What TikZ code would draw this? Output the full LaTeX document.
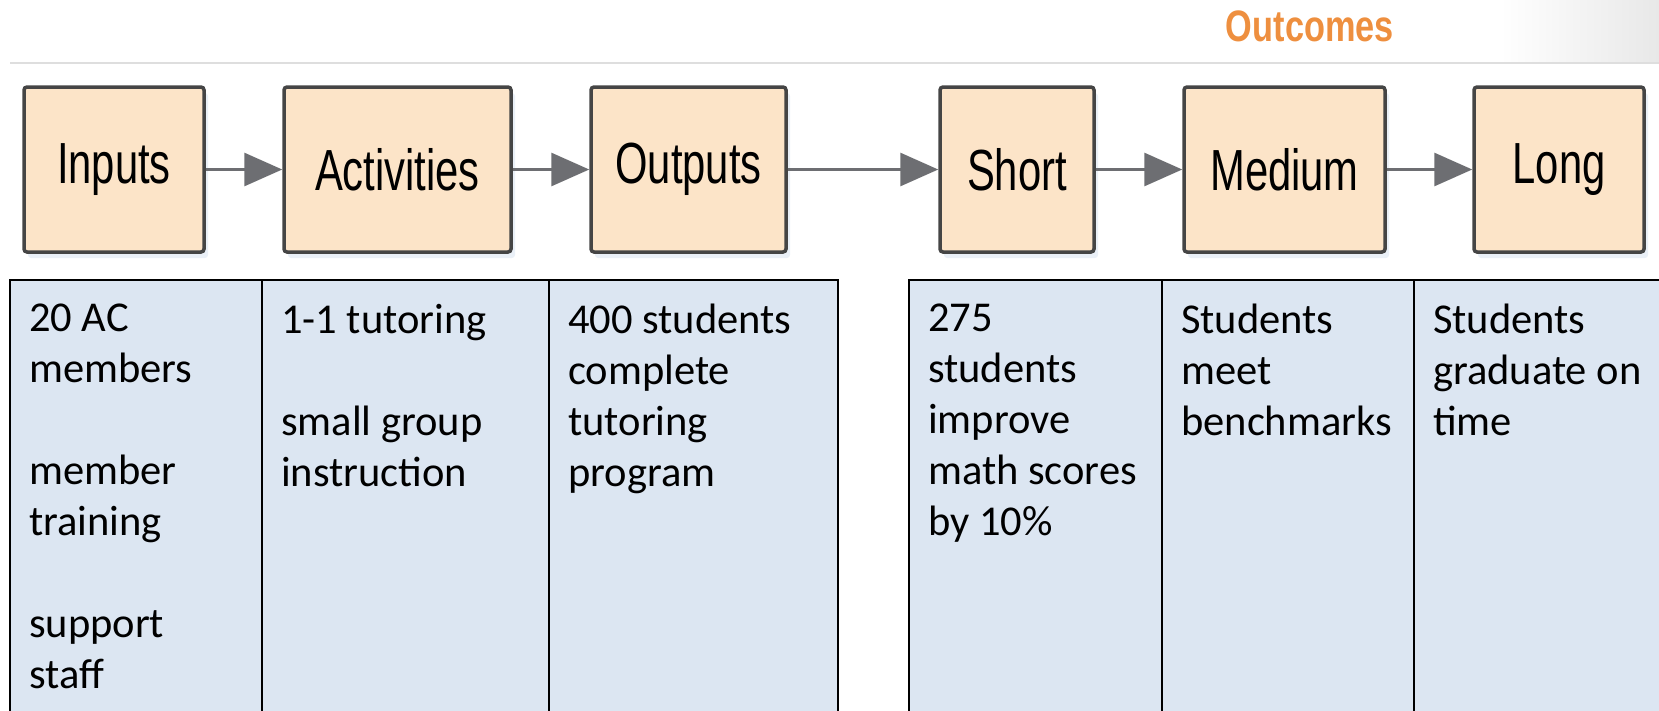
\documentclass[tikz,border=0pt]{standalone}
\usepackage{fontspec}
\usepackage{xcolor}
\usepackage{graphicx}
\usepackage{tikz}
\usetikzlibrary{arrows.meta}
\usetikzlibrary{shadows}
\usetikzlibrary{positioning}

\newfontfamily\stagefont{Liberation Sans}
\newfontfamily\listfont{Carlito}
\definecolor{peach}{HTML}{FCE4C8}
\definecolor{paleblue}{HTML}{DCE6F2}
\definecolor{tangerine}{HTML}{EE8F3F}
\definecolor{arrowgray}{HTML}{6D6E72}
\definecolor{edgegray}{HTML}{454545}
\newcommand{\squeeze}[1]{\scalebox{0.72}[1]{#1}}

\begin{document}
\begin{tikzpicture}[x=1pt,y=-1pt]
	\tikzstyle{stage}=[draw=edgegray, line width=3.5pt, fill=peach, rounded corners=3pt, minimum height=165pt, inner sep=0pt, font=\stagefont\fontsize{58}{60}\selectfont, drop shadow={shadow xshift=4pt, shadow yshift=-6pt, fill=paleblue!60, opacity=1}]
	\tikzstyle{flow}=[draw=arrowgray, line width=3pt, -{Triangle[length=38pt,width=33pt]}]
	\tikzstyle{column}=[draw=black, line width=2pt, fill=paleblue, anchor=north west, minimum height=450pt, inner sep=0pt]
	\tikzstyle{entry}=[anchor=north west, align=left, inner sep=0pt, font=\listfont\fontsize{42.5}{51}\selectfont, execute at begin node={\rule{0pt}{35pt}}]
	\useasboundingbox (0,0) rectangle (1659,710);

		% header
		\shade[left color=white, right color=black!9] (1500,0) rectangle (1659,61);
		\node[anchor=base east, inner sep=0pt, text=tangerine, font=\stagefont\bfseries\fontsize{44}{46}\selectfont] (outcomes) at (1394,41) {\scalebox{0.78}[1]{Outcomes}};
		\coordinate (rulel) at (10,63);
		\coordinate (ruler) at (1659,63);
		\draw[line width=2pt, black!13] (rulel) -- (ruler);

		% stages
		\node[stage, minimum width=180pt] (inp) at (114,169.5) {\squeeze{Inputs}};
		\node[stage, minimum width=227pt] (act) at (397.5,169.5) {\squeeze{Activities}};
		\node[stage, minimum width=195pt] (outp) at (688.5,169.5) {\squeeze{Outputs}};
		\node[stage, minimum width=154pt] (short) at (1017,169.5) {\squeeze{Short}};
		\node[stage, minimum width=201pt] (med) at (1284.5,169.5) {\squeeze{Medium}};
		\node[stage, minimum width=170pt] (long) at (1559,169.5) {\squeeze{Long}};

			\foreach \a/\b in {inp/act, act/outp, outp/short, short/med, med/long}{
				\draw[flow] (\a) -- (\b);
				}

		% columns
		\node[column, minimum width=252pt] (c1) at (9,279) {};
		\node[column, minimum width=287pt] (c2) at (261,279) {};
		\node[column, minimum width=289pt] (c3) at (548,279) {};
		\node[column, minimum width=253pt] (c4) at (908,279) {};
		\node[column, minimum width=252pt] (c5) at (1161,279) {};
		\node[column, minimum width=270pt] (c6) at (1413,279) {};

		\node[entry] (t1) at (29,304) {20 AC\\members\\[51pt]member\\training\\[51pt]support\\staff};
		\node[entry] (t2) at (281,304) {1-1 tutoring\\[51pt]small group\\instruction};
		\node[entry] (t3) at (568,304) {400 students\\complete\\tutoring\\program};
		\node[entry] (t4) at (928,304) {275\\students\\improve\\math scores\\by 10\%};
		\node[entry] (t5) at (1181,304) {Students\\meet\\benchmarks};
		\node[entry] (t6) at (1433,304) {Students\\graduate on\\time};
\end{tikzpicture}
\end{document}
